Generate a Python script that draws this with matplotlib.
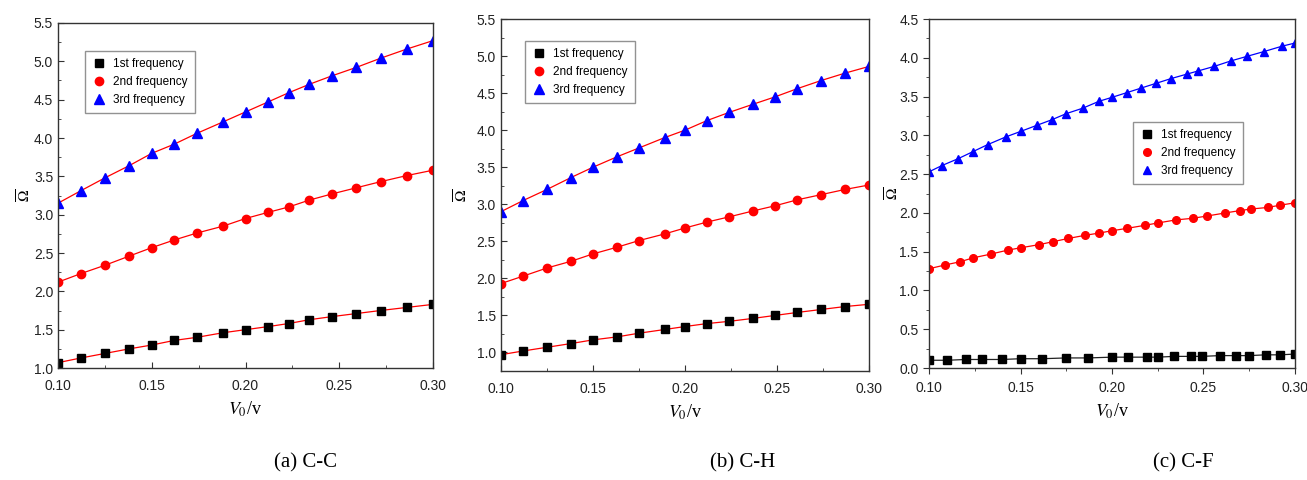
import matplotlib
matplotlib.use("Agg")
import matplotlib.pyplot as plt
from matplotlib.ticker import MultipleLocator, FormatStrFormatter

plt.rcParams['font.family'] = ['Liberation Sans', 'DejaVu Sans']
plt.rcParams['mathtext.fontset'] = 'stix'

labels = ["1st frequency", "2nd frequency", "3rd frequency"]

# (a) C-C
x_cc = [0.100, 0.112, 0.125, 0.138, 0.150, 0.162, 0.174, 0.188, 0.200,
        0.212, 0.223, 0.234, 0.246, 0.259, 0.272, 0.286, 0.300]
f1_cc = [1.07, 1.13, 1.19, 1.25, 1.30, 1.36, 1.40, 1.46, 1.50,
         1.54, 1.58, 1.63, 1.67, 1.71, 1.75, 1.79, 1.83]
f2_cc = [2.12, 2.23, 2.34, 2.46, 2.57, 2.67, 2.76, 2.85, 2.95,
         3.03, 3.10, 3.19, 3.27, 3.35, 3.43, 3.51, 3.58]
f3_cc = [3.15, 3.31, 3.48, 3.64, 3.80, 3.92, 4.06, 4.21, 4.34,
         4.47, 4.59, 4.70, 4.81, 4.92, 5.04, 5.16, 5.27]

# (b) C-H
x_ch = [0.100, 0.112, 0.125, 0.138, 0.150, 0.163, 0.175, 0.189, 0.200,
        0.212, 0.224, 0.237, 0.249, 0.261, 0.274, 0.287, 0.300]
f1_ch = [0.97, 1.02, 1.07, 1.12, 1.17, 1.21, 1.26, 1.31, 1.35,
         1.39, 1.42, 1.46, 1.50, 1.54, 1.58, 1.62, 1.65]
f2_ch = [1.93, 2.03, 2.14, 2.23, 2.33, 2.42, 2.51, 2.60, 2.68,
         2.76, 2.83, 2.91, 2.98, 3.06, 3.13, 3.20, 3.26]
f3_ch = [2.90, 3.05, 3.20, 3.36, 3.50, 3.64, 3.76, 3.90, 4.00,
         4.13, 4.24, 4.35, 4.45, 4.56, 4.67, 4.77, 4.86]

# (c) C-F
x1_cf = [0.100, 0.110, 0.120, 0.129, 0.140, 0.150, 0.162, 0.175, 0.187, 0.200, 0.209,
         0.219, 0.225, 0.234, 0.243, 0.249, 0.259, 0.268, 0.275, 0.284, 0.292, 0.300]
f1_cf = [0.10, 0.10, 0.11, 0.11, 0.11, 0.12, 0.12, 0.13, 0.13, 0.14, 0.14,
         0.14, 0.14, 0.15, 0.15, 0.15, 0.16, 0.16, 0.16, 0.17, 0.17, 0.18]
x2_cf = [0.100, 0.109, 0.117, 0.124, 0.134, 0.143, 0.150, 0.160, 0.168, 0.176, 0.185,
         0.193, 0.200, 0.208, 0.218, 0.225, 0.235, 0.244, 0.252, 0.262, 0.270, 0.276,
         0.285, 0.292, 0.300]
f2_cf = [1.28, 1.33, 1.37, 1.42, 1.47, 1.52, 1.55, 1.59, 1.63, 1.67, 1.71,
         1.74, 1.77, 1.80, 1.84, 1.87, 1.91, 1.93, 1.96, 2.00, 2.03, 2.05,
         2.07, 2.10, 2.13]
x3_cf = [0.100, 0.107, 0.116, 0.124, 0.132, 0.142, 0.150, 0.159, 0.167, 0.175, 0.184,
         0.193, 0.200, 0.208, 0.216, 0.224, 0.232, 0.241, 0.247, 0.256, 0.265, 0.274,
         0.283, 0.293, 0.300]
f3_cf = [2.53, 2.61, 2.70, 2.79, 2.88, 2.98, 3.05, 3.13, 3.20, 3.28, 3.35,
         3.44, 3.49, 3.55, 3.61, 3.67, 3.73, 3.79, 3.83, 3.89, 3.96, 4.02,
         4.08, 4.15, 4.19]

captions = ["(a) C-C", "(b) C-H", "(c) C-F"]

fig = plt.figure(figsize=(13.07, 4.8), dpi=100)

ax1 = fig.add_axes([0.0444, 0.2333, 0.2869, 0.7188])
ax2 = fig.add_axes([0.3833, 0.2271, 0.2816, 0.7333])
ax3 = fig.add_axes([0.7108, 0.2333, 0.2800, 0.7271])

# fitted lines (red in a and b, series colour in c)
ax1.plot(x_cc, f1_cc, color='red', lw=0.9)
ax1.plot(x_cc, f2_cc, color='red', lw=0.9)
ax1.plot(x_cc, f3_cc, color='red', lw=0.9)
ax2.plot(x_ch, f1_ch, color='red', lw=0.9)
ax2.plot(x_ch, f2_ch, color='red', lw=0.9)
ax2.plot(x_ch, f3_ch, color='red', lw=0.9)
ax3.plot(x1_cf, f1_cf, color='#222222', lw=0.9)
ax3.plot(x2_cf, f2_cf, color='red', lw=0.9)
ax3.plot(x3_cf, f3_cf, color='blue', lw=0.9)

# markers
ax1.plot(x_cc, f1_cc, 's', color='black', ms=5.5, ls='none', label=labels[0])
ax1.plot(x_cc, f2_cc, 'o', color='red', ms=6, ls='none', label=labels[1])
ax1.plot(x_cc, f3_cc, '^', color='blue', ms=6.5, ls='none', label=labels[2])
ax2.plot(x_ch, f1_ch, 's', color='black', ms=5.5, ls='none', label=labels[0])
ax2.plot(x_ch, f2_ch, 'o', color='red', ms=6, ls='none', label=labels[1])
ax2.plot(x_ch, f3_ch, '^', color='blue', ms=6.5, ls='none', label=labels[2])
ax3.plot(x1_cf, f1_cf, 's', color='black', ms=5.5, ls='none', label=labels[0])
ax3.plot(x2_cf, f2_cf, 'o', color='red', ms=5.5, ls='none', label=labels[1])
ax3.plot(x3_cf, f3_cf, '^', color='blue', ms=6, ls='none', label=labels[2])

ax1.set_ylim(1.0, 5.5)
ax2.set_ylim(0.75, 5.5)
ax3.set_ylim(0.0, 4.5)

leg_pos = [(0.072, 0.919), (0.065, 0.9375), (0.557, 0.705)]
tick_dir = ['in', 'in', 'out']
ypads = [0, 4, -2]
cap_x = [0.2334, 0.5685, 0.9051]

for ax, cap, lp, td, yp, cx in zip([ax1, ax2, ax3], captions, leg_pos, tick_dir, ypads, cap_x):
    ax.set_xlim(0.10, 0.30)
    ax.xaxis.set_major_locator(MultipleLocator(0.05))
    ax.xaxis.set_minor_locator(MultipleLocator(0.025))
    ax.yaxis.set_major_locator(MultipleLocator(0.5))
    ax.yaxis.set_minor_locator(MultipleLocator(0.25))
    ax.xaxis.set_major_formatter(FormatStrFormatter('%.2f'))
    ax.yaxis.set_major_formatter(FormatStrFormatter('%.1f'))
    ax.tick_params(which='both', direction=td, labelsize=10, colors='#333333',
                   labelcolor='#222222', top=False, right=False)
    ax.tick_params(which='major', length=4)
    ax.tick_params(which='minor', length=2.5)
    ax.tick_params(axis='x', which='major', pad=8 if td == 'in' else 5)
    for s in ax.spines.values():
        s.set_color('#333333')
        s.set_linewidth(1.0)
    ax.set_xlabel(r'$V_0$/v', fontsize=13, family='Liberation Serif', labelpad=5)
    ax.set_ylabel(r'$\overline{\Omega}$', fontsize=11, labelpad=yp)
    ax.legend(loc='upper left', bbox_to_anchor=lp, borderaxespad=0, fontsize=8.5,
              fancybox=False, edgecolor='#777777', handletextpad=0.6,
              handlelength=1.2, borderpad=0.6, labelspacing=0.5)
    fig.text(cx, 0.035, cap, ha='center', va='center',
             fontsize=15, family='Liberation Serif')

fig.savefig("out.png", dpi=100)
